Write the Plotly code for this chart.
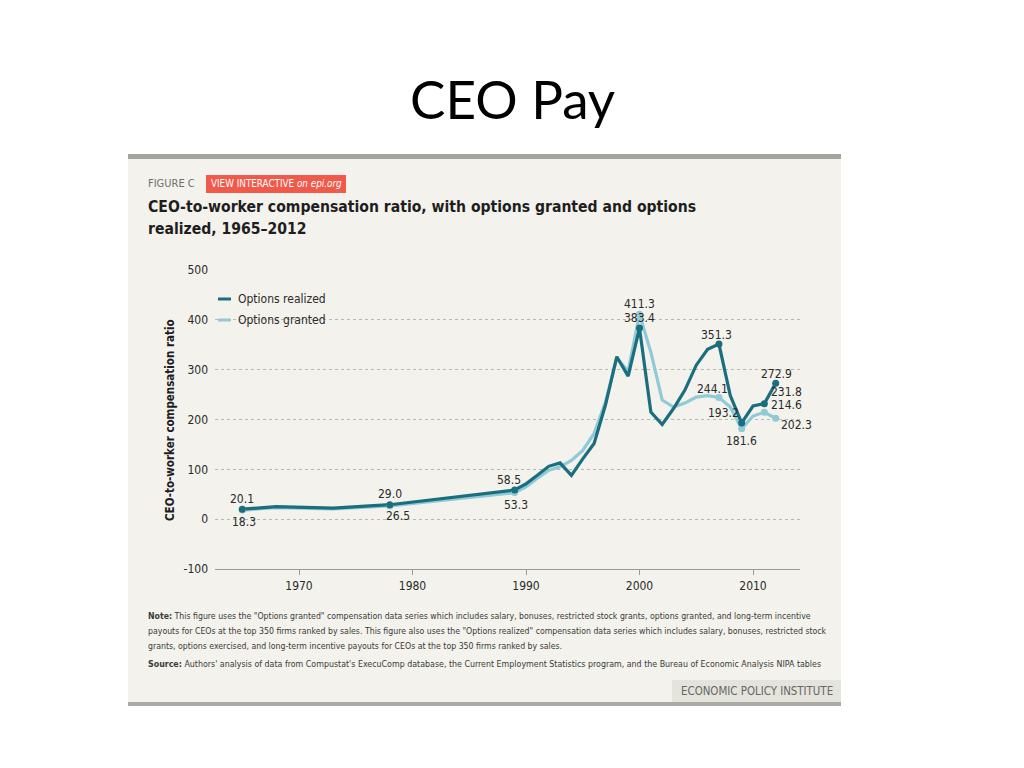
import plotly.graph_objects as go

# ---------------- data ----------------
years = [1965, 1968, 1973, 1978, 1989, 1990, 1991, 1992, 1993, 1994, 1995, 1996,
         1997, 1998, 1999, 2000, 2001, 2002, 2003, 2004, 2005, 2006, 2007, 2008,
         2009, 2010, 2011, 2012]
options_realized = [20.1, 25.0, 22.3, 29.0, 58.5, 71.0, 88.0, 106.0, 113.0, 88.0, 121.0, 152.0,
                    229.0, 326.0, 287.0, 383.4, 215.0, 190.0, 222.0, 259.0, 309.0, 341.0, 351.3, 248.0,
                    193.2, 227.0, 231.8, 272.9]
options_granted = [18.3, 23.0, 20.5, 26.5, 53.3, 65.0, 82.0, 98.0, 105.0, 118.0, 138.0, 172.0,
                   235.0, 323.0, 297.0, 411.3, 335.0, 239.0, 225.0, 233.0, 245.0, 248.0, 244.1, 225.0,
                   181.6, 207.0, 214.6, 202.3]

# labelled points: (year, xshift, yshift, xanchor)
realized_labels = [(1965, 0, 10, "center"), (1978, 0, 11, "center"), (1989, -6, 10, "center"),
                   (2000, 0, 10, "center"), (2007, -2, 9, "center"), (2009, -1, 10, "right"),
                   (2011, 22, 12, "center"), (2012, 1, 9, "center")]
granted_labels = [(1965, 2, -12, "center"), (1978, 8, -10, "center"), (1989, 1, -12, "center"),
                  (2000, 0, 10, "center"), (2007, -6, 9, "center"), (2009, 0, -12, "center"),
                  (2011, 22, 7, "center"), (2012, 21, -7, "center")]

y_ticks = [-100, 0, 100, 200, 300, 400, 500]
x_ticks = [1970, 1980, 1990, 2000, 2010]

note_lines = [
    "<b>Note:</b> This figure uses the \"Options granted\" compensation data series which includes salary, bonuses, restricted stock grants, options granted, and long-term incentive",
    "payouts for CEOs at the top 350 firms ranked by sales. This figure also uses the \"Options realized\" compensation data series which includes salary, bonuses, restricted stock",
    "grants, options exercised, and long-term incentive payouts for CEOs at the top 350 firms ranked by sales.",
]
source_line = ("<b>Source:</b> Authors' analysis of data from Compustat's ExecuComp database, the Current "
               "Employment Statistics program, and the Bureau of Economic Analysis NIPA tables")

DARK = "#1a6e7e"
LIGHT = "#8fcad6"
BG = "#f3f2ec"
TXT = "#2a2a2a"
FONT = "Liberation Sans Narrow, DejaVu Sans Condensed, Arial Narrow, sans-serif"

W, H = 1024, 768
OFF = 8  # page body margin


def px(x):
    return (x - OFF) / W


def py(y):
    return 1 - (y - OFF) / H


fig = go.Figure()

fig.add_trace(go.Scatter(x=years, y=options_granted, mode="lines", name="Options granted",
                         line=dict(color=LIGHT, width=3.2), hoverinfo="x+y"))
fig.add_trace(go.Scatter(x=years, y=options_realized, mode="lines", name="Options realized",
                         line=dict(color=DARK, width=3.2), hoverinfo="x+y"))

# markers at labelled points
gx = [yr for yr, *_ in granted_labels]
gy = [options_granted[years.index(yr)] for yr in gx]
rx = [yr for yr, *_ in realized_labels]
ry = [options_realized[years.index(yr)] for yr in rx]
fig.add_trace(go.Scatter(x=gx, y=gy, mode="markers", marker=dict(color=LIGHT, size=7), hoverinfo="skip"))
fig.add_trace(go.Scatter(x=rx, y=ry, mode="markers", marker=dict(color=DARK, size=7), hoverinfo="skip"))

annotations = []
for labels, series in ((realized_labels, options_realized), (granted_labels, options_granted)):
    for yr, xs, ys, anchor in labels:
        v = series[years.index(yr)]
        annotations.append(dict(x=yr, y=v, xref="x", yref="y", text=f"{v:.1f}", showarrow=False,
                                xshift=xs, yshift=ys, xanchor=anchor, yanchor="middle",
                                font=dict(family=FONT, size=12, color=TXT)))

# slide title
annotations.append(dict(x=px(512), y=py(98), xref="paper", yref="paper", text="CEO Pay",
                        showarrow=False, xanchor="center", yanchor="middle",
                        font=dict(family="Lato, Carlito, Open Sans, sans-serif", size=53, color="#000000")))
# figure header
annotations.append(dict(x=px(146), y=py(184), xref="paper", yref="paper", text="FIGURE C",
                        showarrow=False, xanchor="left", yanchor="middle",
                        font=dict(family=FONT, size=11, color="#6f6f6f")))
annotations.append(dict(x=px(276), y=py(184), xref="paper", yref="paper",
                        text="VIEW INTERACTIVE <i>on epi.org</i>",
                        showarrow=False, xanchor="center", yanchor="middle",
                        font=dict(family=FONT, size=9.8, color="#ffffff")))
annotations.append(dict(x=px(146), y=py(207), xref="paper", yref="paper",
                        text="<b>CEO-to-worker compensation ratio, with options granted and options</b>",
                        showarrow=False, xanchor="left", yanchor="middle", align="left",
                        font=dict(family=FONT, size=15.6, color="#1e1e1e")))
annotations.append(dict(x=px(146), y=py(229), xref="paper", yref="paper",
                        text="<b>realized, 1965–2012</b>",
                        showarrow=False, xanchor="left", yanchor="middle", align="left",
                        font=dict(family=FONT, size=15.6, color="#1e1e1e")))
# legend
annotations.append(dict(x=px(236), y=py(299), xref="paper", yref="paper", text="Options realized",
                        showarrow=False, xanchor="left", yanchor="middle",
                        font=dict(family=FONT, size=12, color=TXT)))
annotations.append(dict(x=px(236), y=py(320), xref="paper", yref="paper", text="Options granted",
                        showarrow=False, xanchor="left", yanchor="middle",
                        font=dict(family=FONT, size=12, color=TXT)))
# y axis title
annotations.append(dict(x=px(170), y=py(420), xref="paper", yref="paper",
                        text="<b>CEO-to-worker compensation ratio</b>", textangle=-90,
                        showarrow=False, xanchor="center", yanchor="middle",
                        font=dict(family=FONT, size=11.5, color="#1e1e1e")))
# notes
for i, line in enumerate(note_lines):
    annotations.append(dict(x=px(146), y=py(616 + 15 * i), xref="paper", yref="paper", text=line,
                            showarrow=False, xanchor="left", yanchor="middle", align="left",
                            font=dict(family=FONT, size=8.7, color="#3a3a3a")))
annotations.append(dict(x=px(146), y=py(664), xref="paper", yref="paper", text=source_line,
                        showarrow=False, xanchor="left", yanchor="middle", align="left",
                        font=dict(family=FONT, size=8.8, color="#3a3a3a")))
annotations.append(dict(x=px(757), y=py(691), xref="paper", yref="paper", text="ECONOMIC POLICY INSTITUTE",
                        showarrow=False, xanchor="center", yanchor="middle",
                        font=dict(family=FONT, size=11.4, color="#666666")))

shapes = [
    dict(type="rect", xref="paper", yref="paper", x0=px(128), x1=px(841), y0=py(706), y1=py(154),
         fillcolor=BG, line=dict(width=0), layer="below"),
    dict(type="rect", xref="paper", yref="paper", x0=px(128), x1=px(841), y0=py(159), y1=py(154),
         fillcolor="#a4a49e", line=dict(width=0), layer="below"),
    dict(type="rect", xref="paper", yref="paper", x0=px(128), x1=px(841), y0=py(706), y1=py(702),
         fillcolor="#aaaaa4", line=dict(width=0), layer="below"),
    dict(type="rect", xref="paper", yref="paper", x0=px(672), x1=px(841), y0=py(702), y1=py(680),
         fillcolor="#e4e3dc", line=dict(width=0), layer="below"),
    dict(type="rect", xref="paper", yref="paper", x0=px(206), x1=px(346), y0=py(193), y1=py(175),
         fillcolor="#ef5a4b", line=dict(width=0), layer="below"),
    dict(type="line", xref="paper", yref="paper", x0=px(218), x1=px(231), y0=py(299), y1=py(299),
         line=dict(color=DARK, width=3)),
    dict(type="line", xref="paper", yref="paper", x0=px(218), x1=px(231), y0=py(320), y1=py(320),
         line=dict(color=LIGHT, width=3)),
]

x_left, x_right = 215, 800
yr_px = (753 - 299) / 40.0
x0_year = 1970 - (299 - x_left) / yr_px
x1_year = 1970 + (x_right - 299) / yr_px

fig.update_layout(
    template="none",
    width=W, height=H, autosize=False,
    margin=dict(l=0, r=0, t=0, b=0, pad=0, autoexpand=False),
    paper_bgcolor="#ffffff", plot_bgcolor="rgba(0,0,0,0)",
    showlegend=False,
    font=dict(family=FONT, size=12, color=TXT),
    annotations=annotations, shapes=shapes,
    xaxis=dict(domain=[px(x_left), px(x_right)], range=[x0_year, x1_year], automargin=False,
               tickvals=x_ticks, ticktext=[str(t) for t in x_ticks],
               showgrid=False, zeroline=False, showline=True, linecolor="#9a9a96", linewidth=1.2,
               ticks="outside", ticklen=5, tickcolor="#9a9a96",
               tickfont=dict(family=FONT, size=12, color=TXT)),
    yaxis=dict(domain=[py(569), py(270)], range=[-100, 500], automargin=False,
               tickvals=y_ticks, ticktext=[str(t) for t in y_ticks],
               showgrid=True, gridcolor="#b8b8b0", griddash="dot", gridwidth=1,
               zeroline=False, showline=False, ticks="", ticklabelstandoff=6,
               tickfont=dict(family=FONT, size=12, color=TXT)),
)

fig.write_html("out.html")
